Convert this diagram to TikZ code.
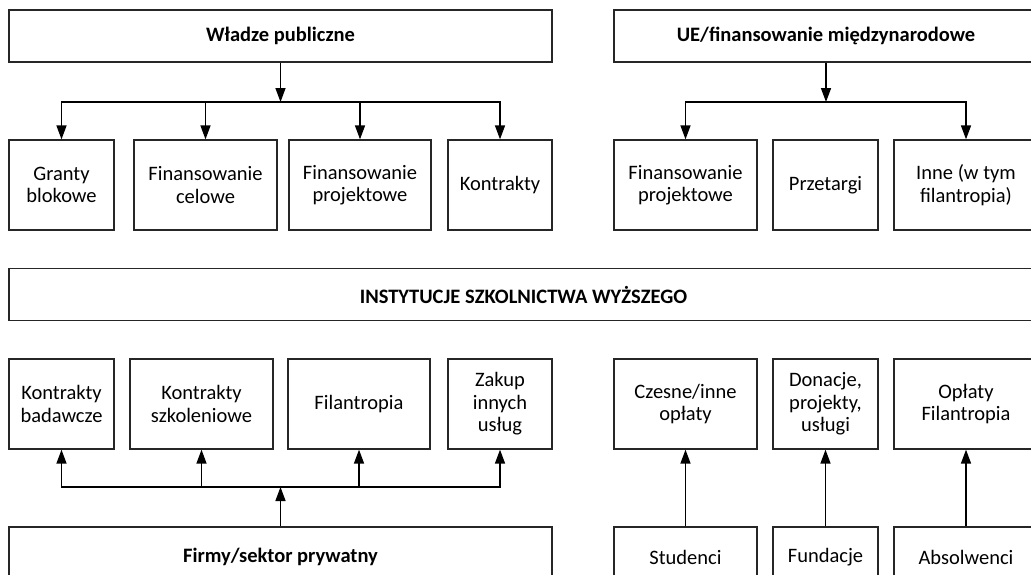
\documentclass[tikz,border=0pt]{standalone}
\usepackage{fontspec}
\setmainfont{Carlito}
\usetikzlibrary{arrows.meta}

\begin{document}
\begin{tikzpicture}[x=1pt, y=-1pt,
    every node/.style={draw=black!85, line width=1.3pt, align=center, inner sep=2pt, font=\fontsize{20.5}{22.5}\selectfont},
    head/.style={minimum width=#1, minimum height=52, font=\fontsize{20.5}{22.5}\selectfont\bfseries},
    fbox/.style={minimum width=#1, minimum height=90},
    foot/.style={minimum width=#1, minimum height=60},
    arr/.style={-{Triangle[length=14pt, width=10pt]}, line width=1.5pt}]
  \useasboundingbox (0,0) rectangle (1031,574);
  % zrodla finansowania publicznego
  \node[head=543] (wp) at (280.5,36) {Władze publiczne};
  \node[head=424] (ue) at (826,36) {UE/finansowanie międzynarodowe};
  \node[fbox=105] (gb) at (61.5,185) {Granty\\blokowe};
  \node[fbox=143] (fc) at (205.5,185) {Finansowanie\\celowe};
  \node[fbox=142] (fp) at (360,185) {Finansowanie\\projektowe};
  \node[fbox=104] (ko) at (500,185) {Kontrakty};
  \node[fbox=143] (fu) at (685.5,185) {Finansowanie\\projektowe};
  \node[fbox=105] (pr) at (825.5,185) {Przetargi};
  \node[fbox=144] (in) at (966,185) {Inne (w tym\\filantropia)};
  % uczelnie
  \node[head=1029] (isw) at (523.5,294.5) {INSTYTUCJE SZKOLNICTWA WYŻSZEGO};
  % zrodla prywatne
  \node[fbox=105] (kb) at (61.5,404) {Kontrakty\\badawcze};
  \node[fbox=143] (ks) at (201.5,404) {Kontrakty\\szkoleniowe};
  \node[fbox=142] (fi) at (359,404) {Filantropia};
  \node[fbox=104] (zu) at (500,404) {Zakup\\innych\\usług};
  \node[fbox=143] (co) at (685.5,404) {Czesne/inne\\opłaty};
  \node[fbox=105] (dp) at (825.5,404) {Donacje,\\projekty,\\usługi};
  \node[fbox=144] (of) at (966,404) {Opłaty\\Filantropia};
  \node[foot=543] (fs) at (280.5,557) {\textbf{Firmy/sektor prywatny}};
  \node[foot=143] (st) at (685.5,557) {Studenci};
  \node[foot=105] (fd) at (825.5,557) {Fundacje};
  \node[foot=144] (ab) at (966,557) {Absolwenci};
  % polaczenia
  \coordinate (jt) at (280.5,102);
  \coordinate (ju) at (826,102);
  \coordinate (jb) at (280.5,487);
  \draw[arr] (wp) -- (jt);
  \foreach \n in {gb,fc,fp,ko} \draw[arr] (jt) -| (\n);
  \draw[arr] (ue) -- (ju);
  \foreach \n in {fu,in} \draw[arr] (ju) -| (\n);
  \draw[arr] (fs) -- (jb);
  \foreach \n in {kb,ks,fi,zu} \draw[arr] (jb) -| (\n);
  \draw[arr] (st) -- (co);
  \draw[arr] (fd) -- (dp);
  \draw[arr] (ab) -- (of);
\end{tikzpicture}
\end{document}
